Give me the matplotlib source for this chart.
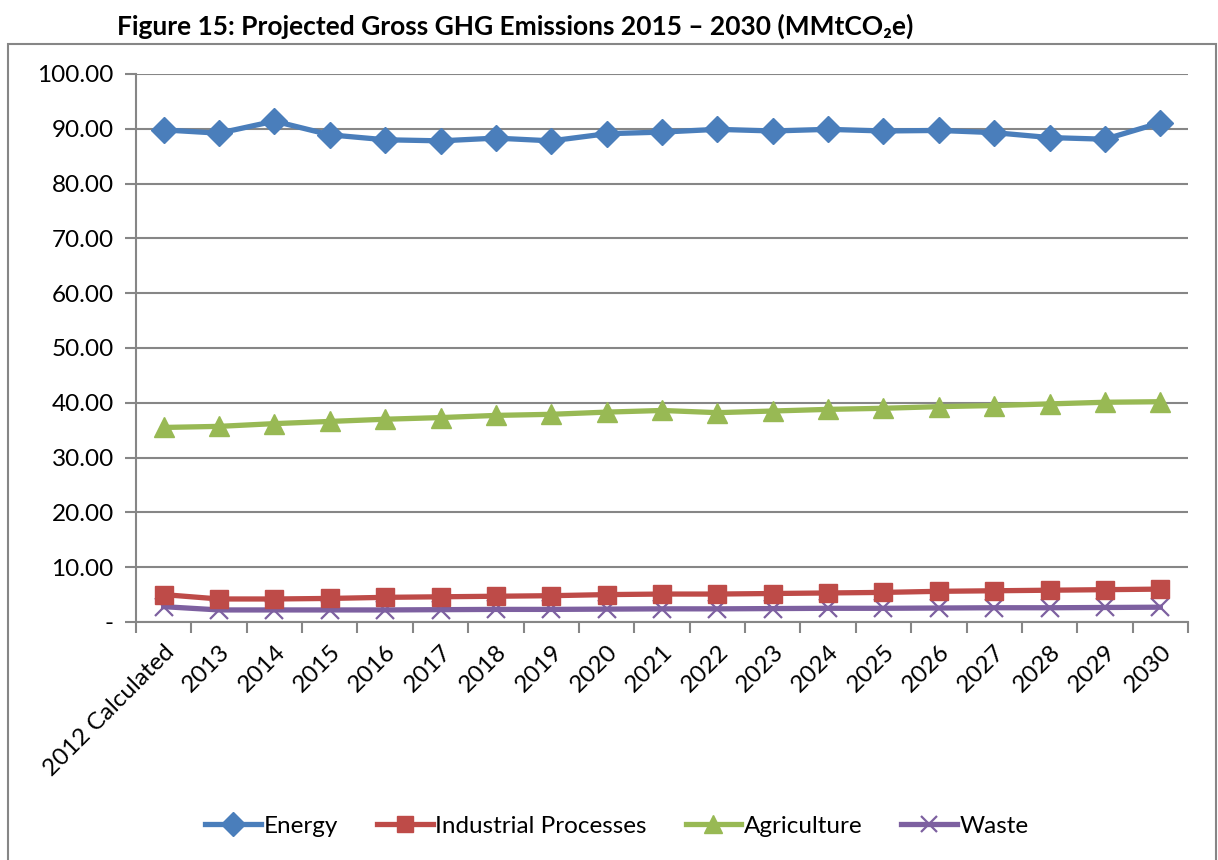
import matplotlib
matplotlib.use("Agg")
import matplotlib.pyplot as plt
from matplotlib.patches import Rectangle
from matplotlib.ticker import FixedLocator, FuncFormatter
import numpy as np

plt.rcParams['font.family'] = ['Lato', 'DejaVu Sans']

categories = ["2012 Calculated", "2013", "2014", "2015", "2016", "2017", "2018",
              "2019", "2020", "2021", "2022", "2023", "2024", "2025", "2026",
              "2027", "2028", "2029", "2030"]

energy = [89.8, 89.2, 91.4, 88.9, 88.0, 87.8, 88.3, 87.8, 89.1, 89.4,
          89.9, 89.6, 89.9, 89.6, 89.7, 89.3, 88.4, 88.1, 91.1]
industrial = [5.0, 4.2, 4.2, 4.3, 4.5, 4.6, 4.7, 4.8, 5.0, 5.1,
              5.1, 5.2, 5.3, 5.4, 5.6, 5.7, 5.8, 5.9, 6.0]
agriculture = [35.5, 35.7, 36.2, 36.6, 37.0, 37.3, 37.7, 37.9, 38.3, 38.6,
               38.2, 38.5, 38.8, 39.0, 39.3, 39.5, 39.8, 40.1, 40.2]
waste = [2.8, 2.2, 2.2, 2.2, 2.2, 2.25, 2.3, 2.3, 2.35, 2.4,
         2.4, 2.45, 2.5, 2.5, 2.55, 2.6, 2.6, 2.65, 2.7]

series_names = ["Energy", "Industrial Processes", "Agriculture", "Waste"]
colors = ["#4A7EBB", "#BE4B48", "#98B954", "#7D60A0"]
title = "Figure 15: Projected Gross GHG Emissions 2015 \u2013 2030 (MMtCO\u2082e)"

W, H = 1218, 860
fig = plt.figure(figsize=(W / 100, H / 100), dpi=100)

# outer chart border
fig.patches.append(Rectangle((8 / W, -0.05), (1216 - 8) / W, (H - 44) / H + 0.05,
                             transform=fig.transFigure, fill=False,
                             edgecolor="#868686", linewidth=1.5))

ax = fig.add_axes([136 / W, 1 - 622 / H, (1188 - 136) / W, (622 - 74) / H])

x = np.arange(len(categories))
grey = "#868686"
lw = 3.8
ax.plot(x, energy, color=colors[0], lw=lw, marker="D", ms=13.5, label=series_names[0],
        solid_joinstyle="round", zorder=5)
ax.plot(x, industrial, color=colors[1], lw=lw, marker="s", ms=13, label=series_names[1],
        zorder=4)
ax.plot(x, agriculture, color=colors[2], lw=lw, marker="^", ms=14, label=series_names[2],
        zorder=4)
ax.plot(x, waste, color=colors[3], lw=lw, marker="x", ms=13, mew=1.6,
        label=series_names[3], zorder=3)

ax.set_xlim(-0.5, len(categories) - 0.5)
ax.set_ylim(0, 100)
ax.set_yticks(np.arange(0, 101, 10))
ax.yaxis.set_major_formatter(FuncFormatter(lambda v, p: "-" if v == 0 else f"{v:.2f}"))
ax.grid(axis="y", color=grey, lw=1.5)
ax.set_axisbelow(True)

fs = 17.5
ax.set_xticks(x)
ax.set_xticklabels(categories, rotation=45, ha="right", rotation_mode="anchor",
                   fontsize=fs)
ax.xaxis.set_minor_locator(FixedLocator(np.arange(-0.5, len(categories), 1)))
ax.tick_params(axis="x", which="major", length=0, pad=14)
ax.tick_params(axis="x", which="minor", length=8, width=1.5, color=grey, direction="out")
ax.tick_params(axis="y", length=8, width=1.5, color=grey, direction="out",
               labelsize=fs, pad=8)

for side in ["top", "right"]:
    ax.spines[side].set_visible(False)
for side in ["left", "bottom"]:
    ax.spines[side].set_color(grey)
    ax.spines[side].set_linewidth(1.5)

fig.text(515 / W, 1 - 26 / H, title, ha="center", va="center", fontsize=19,
         fontweight="bold")

leg = fig.legend(loc="center", bbox_to_anchor=(617 / W, 1 - 826 / H), ncol=4,
                 frameon=False, fontsize=fs, handlelength=2.3, handletextpad=0.1,
                 columnspacing=1.6, markerscale=0.9)

fig.savefig("out.png", dpi=100)
